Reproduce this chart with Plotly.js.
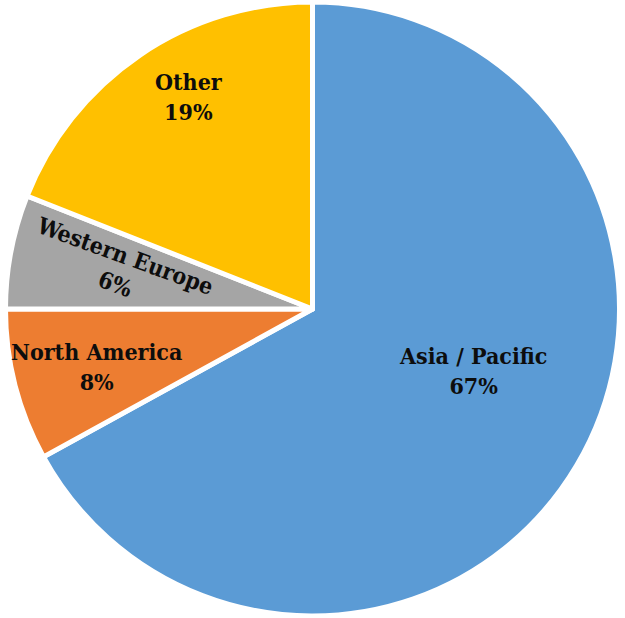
<!DOCTYPE html>
<html>
<head>
<meta charset="utf-8">
<script src="https://cdn.plot.ly/plotly-3.0.1.min.js"></script>
<style>html,body{margin:0;padding:0;background:#fff;}#chart{width:625px;height:618px;}</style>
</head>
<body>
<div id="chart"></div>
<script>
const regions = ["Asia / Pacific", "North America", "Western Europe", "Other"];
const shares = [67, 8, 6, 19];
const colors = ["#5B9BD5", "#ED7D31", "#A5A5A5", "#FFC000"];

// label placement styling (fraction along slice, fraction of radius, rotation)
const labelAlong = [0.46, 0.48, 0.54, 0.56];
const labelRadius = [0.56, 0.73, 0.64, 0.80];
const labelAngle = [0, 0, 20, 0];

const W = 625, H = 618, M = 2;
const PW = W - 2 * M, PH = H - 2 * M;
const R = Math.min(PW, PH) / 2;
const total = shares.reduce((a, b) => a + b, 0);

const font = {family: "DejaVu Serif Condensed, DejaVu Serif", size: 23, color: "#0d0d0d"};

let cum = 0;
const annotations = regions.map((name, i) => {
  const start = cum / total * 360;
  const span = shares[i] / total * 360;
  cum += shares[i];
  const ang = (start + labelAlong[i] * span) * Math.PI / 180;
  const r = labelRadius[i] * R;
  const dx = r * Math.sin(ang), dy = -r * Math.cos(ang);
  return {
    xref: "paper", yref: "paper",
    x: 0.5 + dx / PW, y: 0.5 - dy / PH,
    xanchor: "center", yanchor: "middle",
    text: "<b>" + name + "</b><br><b>" + Math.round(shares[i] / total * 100) + "%</b>",
    showarrow: false,
    textangle: labelAngle[i],
    font: font
  };
});

const trace = {
  type: "pie",
  labels: regions,
  values: shares,
  sort: false,
  direction: "clockwise",
  rotation: 0,
  textinfo: "none",
  hoverinfo: "none",
  marker: {colors: colors, line: {color: "#ffffff", width: 5}},
  domain: {x: [0, 1], y: [0, 1]},
  showlegend: false
};

Plotly.newPlot("chart", [trace], {
  width: W, height: H,
  margin: {l: M, r: M, t: M, b: M},
  paper_bgcolor: "#ffffff",
  showlegend: false,
  annotations: annotations
}, {displayModeBar: false, staticPlot: true});
</script>
</body>
</html>
